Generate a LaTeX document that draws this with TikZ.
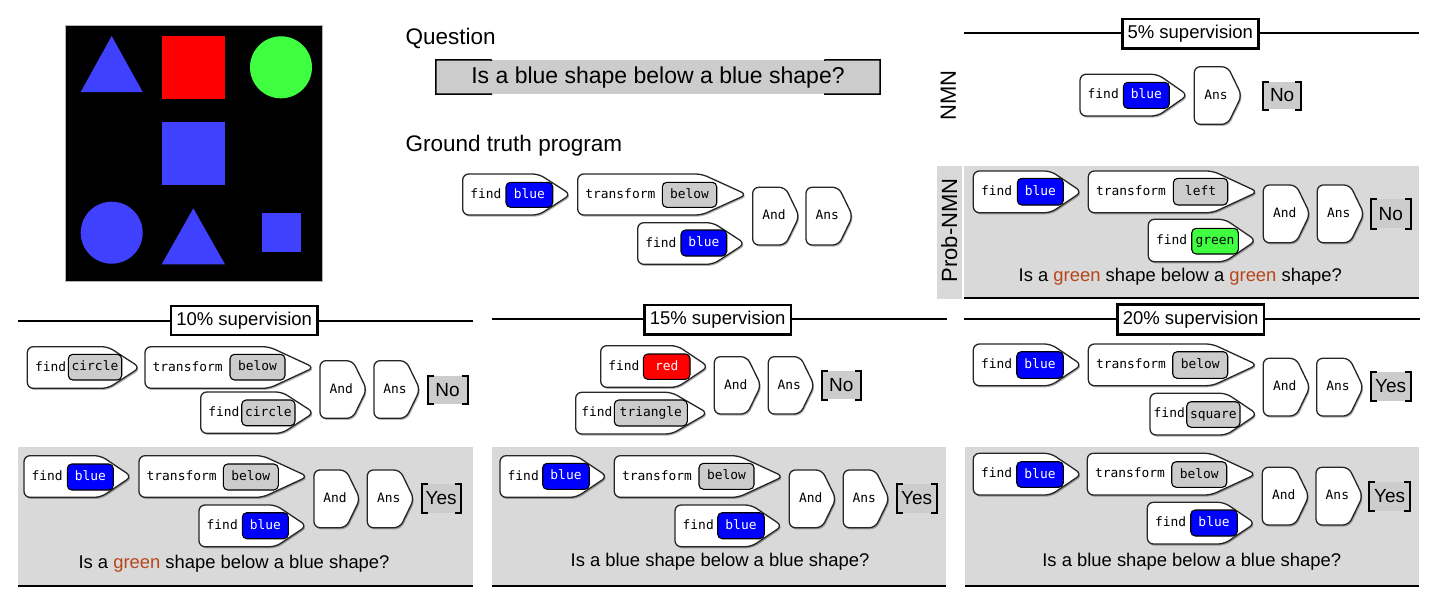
\documentclass[tikz,border=0pt]{standalone}
\usepackage{fontspec}
\setmainfont{Liberation Sans}
\newfontfamily\codefont{DejaVu Sans Mono}
\usetikzlibrary{fit,shadows}
\definecolor{panelgray}{RGB}{217,217,217}
\definecolor{ansgray}{RGB}{204,204,204}
\definecolor{argblue}{RGB}{0,0,255}
\definecolor{argred}{RGB}{255,0,0}
\definecolor{arggreen}{RGB}{64,255,64}
\definecolor{arggray}{RGB}{204,204,204}
\definecolor{shapeblue}{RGB}{64,64,255}
\definecolor{shapegreen}{RGB}{64,255,64}
\definecolor{wordgreen}{RGB}{181,70,26}
\tikzset{
  modshape/.style={draw=black!85, line width=1.3pt, fill=white, rounded corners=6pt,
    drop shadow={shadow xshift=1.2pt, shadow yshift=-1.6pt, opacity=0.3, fill=black}},
  modword/.style={inner sep=0pt, font=\fontsize{12.9}{15}\codefont, text=black,
    text height=1.5ex, text depth=0.3ex},
  argbox/.style={draw=black, line width=1.1pt, rounded corners=4.5pt, inner sep=0pt},
  argtext/.style={inner sep=0pt, font=\fontsize{12.9}{15}\codefont, text height=1.5ex, text depth=0.3ex},
  bluearg/.style={fill=argblue, text=white},
  redarg/.style={fill=argred, text=white},
  grayarg/.style={fill=arggray, text=black},
  greenarg/.style={fill=arggreen, text=black},
  ansbox/.style={inner sep=0pt, fill=ansgray},
  anstext/.style={inner sep=0pt, font=\fontsize{19}{23}\selectfont},
  bracket/.style={line width=2pt, black},
  rule/.style={line width=2.3pt, black},
  headbox/.style={draw=black, line width=2.4pt, fill=white, inner sep=0pt},
  headtext/.style={inner sep=0pt, font=\fontsize{18.5}{22}\selectfont},
  title/.style={font=\fontsize{22.5}{27}\selectfont, inner sep=0pt},
  qtext/.style={font=\fontsize{18.4}{22}\selectfont, inner sep=0pt},
  side/.style={font=\fontsize{22}{26}\selectfont, inner sep=0pt, rotate=90}
}
% module outline: name, x1, y1, x2, y2, tip depth
\newcommand\mkmod[6]{%
  \node[inner sep=0pt, outer sep=0pt, fit={(#2,#3) (#4,#5)}] (#1) {};
  \draw[modshape] (#1.north west) -- ([xshift=-#6pt]#1.north east) -- (#1.east)
     -- ([xshift=-#6pt]#1.south east) -- (#1.south west) -- cycle;}
% argument box: name, x1, y1, x2, y2, style, text
\newcommand\mkarg[7]{\node[argbox, #6, fit={(#2,#3) (#4,#5)}] (#1) {};
  \node[argtext, #6, fill=none] (#1t) at ([yshift=-0.5pt]#1.center) {#7};}
% word at left of module: [offset] name, module, text
\newcommand\mkword[4][7.5]{\node[modword, anchor=west] (#2) at ([xshift=#1pt, yshift=-0.5pt]#3.west) {#4};}
% And / Ans module: name, x1, y1, x2, y2, text
\newcommand\mkfun[6]{\mkmod{#1}{#2}{#3}{#4}{#5}{14}%
  \node[modword] (#1t) at ([xshift=-2pt, yshift=-0.5pt]#1.center) {#6};}
% answer: name, x1, y1, x2, y2, text
\newcommand\mkans[6]{%
  \node[ansbox, fit={(#2,#3) (#4,#5)}] (#1) {};
  \node[anstext] (#1t) at (#1.center) {#6};
  \draw[bracket] ([xshift=6pt]#1.north west) -- (#1.north west) -- (#1.south west) -- ([xshift=6pt]#1.south west);
  \draw[bracket] ([xshift=-6pt]#1.north east) -- (#1.north east) -- (#1.south east) -- ([xshift=-6pt]#1.south east);}
% header: name, line x1, line x2, line y, box x1, y1, x2, y2, text
\newcommand\mkhead[9]{%
  \draw[rule] (#2,#4) -- (#3,#4);
  \node[headbox, fit={(#5,#6) (#7,#8)}] (#1) {};
  \node[headtext] (#1t) at (#1.center) {#9};}
\newcommand\gw{\textcolor{wordgreen}{green}}
\begin{document}
\begin{tikzpicture}[x=1pt, y=-1pt]
\useasboundingbox (0,0) rectangle (1447,603);
% ---------- scene image ----------
\fill[black] (65,25) rectangle (322,281);
\draw[gray!60, line width=0.6pt] (65,25) rectangle (322,281);
\fill[shapeblue] (111.7,36) -- (80.7,92) -- (142.7,92) -- cycle;
\fill[argred] (161.7,36) rectangle (225,99);
\fill[shapegreen] (281,67.3) circle (31pt);
\fill[shapeblue] (161.7,121.7) rectangle (225,184.7);
\fill[shapeblue] (111.7,232.7) circle (31pt);
\fill[shapeblue] (193.3,208.3) -- (161.7,264.3) -- (225,264.3) -- cycle;
\fill[shapeblue] (262,213.3) rectangle (300.7,251.7);
% ---------- question ----------
\node[title, anchor=base west] (qlabel) at (405.5,44) {Question};
\node[inner sep=0pt, fill=ansgray, fit={(436,60) (880,94)}] (qbox) {};
\node[inner sep=0pt, font=\fontsize{23}{27}\selectfont] (qboxt) at ([yshift=-1pt]qbox.center) {Is a blue shape below a blue shape?};
\draw[line width=1.5pt] (492,60) -- (qbox.north west) -- (qbox.south west) -- (492,94);
\draw[line width=1.5pt] (824,60) -- (qbox.north east) -- (qbox.south east) -- (824,94);
\node[title, anchor=base west] (gtlabel) at (405.5,151.5) {Ground truth program};
% ground truth program
\mkmod{gt1}{462.7}{174}{570.7}{215}{32}\mkword{gt1w}{gt1}{find}
\mkarg{gt1a}{506}{182.3}{552.7}{207.3}{bluearg}{blue}
\mkmod{gt2}{577.7}{174}{746.7}{215}{45}\mkword{gt2w}{gt2}{transform}
\mkarg{gt2a}{662.3}{182.3}{716.7}{207.3}{grayarg}{below}
\mkmod{gt3}{637.7}{222.7}{745}{264.3}{32}\mkword{gt3w}{gt3}{find}
\mkarg{gt3a}{681}{230}{726.7}{256}{bluearg}{blue}
\mkfun{gt4}{752.7}{187.3}{799.3}{245}{And}
\mkfun{gt5}{806}{187.3}{852.7}{245}{Ans}
% ---------- 5% supervision ----------
\mkhead{h5}{964.3}{1419.3}{33.3}{1122.3}{19}{1258.3}{48.3}{5\% supervision}
\node[side] (nmnlabel) at (948.3,95.3) {NMN};
\mkmod{n1}{1080}{74.3}{1187.7}{116}{30}\mkword{n1w}{n1}{find}
\mkarg{n1a}{1123.3}{82.3}{1169.3}{108.3}{bluearg}{blue}
\mkfun{n2}{1194.3}{66.7}{1241.7}{124.3}{Ans}
\mkans{n3}{1263.3}{81.7}{1301}{109.3}{No}
\fill[panelgray] (964.3,166) rectangle (1419,298.3);
\draw[rule] (964.3,298.3) -- (1419,298.3);
\node[inner sep=0pt, fill=panelgray, fit={(936.7,166) (961.7,299.3)}] (strip) {};
\node[side] (problabel) at (949.2,230.3) {Prob-NMN};
\mkmod{p1}{973.3}{171}{1081.7}{212.7}{31}\mkword{p1w}{p1}{find}
\mkarg{p1a}{1017.3}{178.3}{1063.3}{205}{bluearg}{blue}
\mkmod{p2}{1088.3}{171}{1257.7}{212.7}{45}\mkword{p2w}{p2}{transform}
\mkarg{p2a}{1173.3}{178.3}{1227.7}{205}{grayarg}{left}
\mkmod{p3}{1148.3}{219.3}{1256}{261.7}{31}\mkword{p3w}{p3}{find}
\mkarg{p3a}{1191.7}{228.3}{1238.3}{254}{greenarg}{green}
\mkfun{p4}{1263.3}{185}{1310}{242.7}{And}
\mkfun{p5}{1317.3}{185}{1364}{242.7}{Ans}
\mkans{p6}{1370.7}{199.3}{1410.7}{228.3}{No}
\node[qtext, anchor=base] (pq) at (1180.3,281.7) {Is a \gw{} shape below a \gw{} shape?};
% ---------- 10% supervision ----------
\mkhead{h10}{18.3}{473.3}{320.7}{171}{305.7}{317.3}{335}{10\% supervision}
\mkmod{a1}{27.3}{346.7}{140}{388.3}{32}\mkword{a1w}{a1}{find}
\mkarg{a1a}{68.3}{354.3}{121.7}{380}{grayarg}{circle}
\mkmod{a2}{145}{346.7}{314}{388.3}{45}\mkword{a2w}{a2}{transform}
\mkarg{a2a}{230}{354.3}{285}{380}{grayarg}{below}
\mkmod{a3}{200.7}{392}{314}{433.3}{32}\mkword{a3w}{a3}{find}
\mkarg{a3a}{241.7}{400}{295}{425.7}{grayarg}{circle}
\mkfun{a4}{320}{360.7}{366.7}{418.3}{And}
\mkfun{a5}{374}{360.7}{420}{418.3}{Ans}
\mkans{a6}{427.7}{375.7}{467.3}{404}{No}
\fill[panelgray] (18.3,446.7) rectangle (472.7,585);
\draw[rule] (18.3,586) -- (472.7,586);
\mkmod{b1}{24}{455.7}{131.7}{497.3}{31}\mkword{b1w}{b1}{find}
\mkarg{b1a}{67.3}{464}{113.3}{490}{bluearg}{blue}
\mkmod{b2}{139}{455.7}{307.7}{497.3}{45}\mkword{b2w}{b2}{transform}
\mkarg{b2a}{223.3}{464}{278.3}{490}{grayarg}{below}
\mkmod{b3}{199}{505}{306.7}{546.7}{31}\mkword{b3w}{b3}{find}
\mkarg{b3a}{242.3}{512.7}{288.3}{538.7}{bluearg}{blue}
\mkfun{b4}{314}{470}{360}{527.7}{And}
\mkfun{b5}{367.3}{470}{414}{527.7}{Ans}
\mkans{b6}{421.7}{484.3}{460.7}{512.7}{Yes}
\node[qtext, anchor=base] (bq) at (234,568.3) {Is a \gw{} shape below a blue shape?};
% ---------- 15% supervision ----------
\mkhead{h15}{491.7}{946.7}{319.3}{644.3}{305}{791}{334.3}{15\% supervision}
\mkmod{c1}{600.7}{345.7}{708.3}{387.3}{31}\mkword{c1w}{c1}{find}
\mkarg{c1a}{643.3}{354}{690}{379.3}{redarg}{red}
\mkmod{c2}{575.7}{392.3}{707.7}{434}{36}\mkword[5.5]{c2w}{c2}{find}
\mkarg{c2a}{614.3}{400}{687.3}{426}{grayarg}{triangle}
\mkfun{c3}{714.3}{356.7}{761}{414}{And}
\mkfun{c4}{768.3}{356.7}{814.3}{414}{Ans}
\mkans{c5}{821.7}{371}{861}{399.3}{No}
\fill[panelgray] (492.3,447.3) rectangle (946,585);
\draw[rule] (492.3,586) -- (946,586);
\mkmod{d1}{500}{455.7}{607.3}{497.3}{31}\mkword{d1w}{d1}{find}
\mkarg{d1a}{542.7}{463.3}{589.3}{489.3}{bluearg}{blue}
\mkmod{d2}{614.3}{455.7}{783.3}{497.3}{45}\mkword{d2w}{d2}{transform}
\mkarg{d2a}{699}{463.3}{754}{489.3}{grayarg}{below}
\mkmod{d3}{675}{505}{782.3}{546.7}{31}\mkword{d3w}{d3}{find}
\mkarg{d3a}{717.7}{512.7}{764.3}{538.7}{bluearg}{blue}
\mkfun{d4}{789.3}{470}{836}{527.7}{And}
\mkfun{d5}{843.3}{470}{889.3}{527.7}{Ans}
\mkans{d6}{896.7}{484.3}{936.7}{512.7}{Yes}
\node[qtext, anchor=base] (dq) at (720,566.7) {Is a blue shape below a blue shape?};
% ---------- 20% supervision ----------
\mkhead{h20}{964}{1420}{319}{1117.3}{304.3}{1264}{334.3}{20\% supervision}
\mkmod{e1}{973.3}{344}{1081.7}{385.7}{31}\mkword{e1w}{e1}{find}
\mkarg{e1a}{1016.7}{351.7}{1063.3}{378.3}{bluearg}{blue}
\mkmod{e2}{1088.3}{344}{1257.3}{385.7}{45}\mkword{e2w}{e2}{transform}
\mkarg{e2a}{1172.7}{351.7}{1227.7}{378.3}{grayarg}{below}
\mkmod{e3}{1150}{393.3}{1257.3}{435}{31}\mkword[3.5]{e3w}{e3}{find}
\mkarg{e3a}{1186.7}{401.7}{1240}{427.3}{grayarg}{square}
\mkfun{e4}{1263.3}{358.3}{1310}{416}{And}
\mkfun{e5}{1316.7}{358.3}{1363.3}{416}{Ans}
\mkans{e6}{1370.7}{372.3}{1410.7}{400.7}{Yes}
\fill[panelgray] (965,446.7) rectangle (1419.3,585);
\draw[rule] (965,586) -- (1419.3,586);
\mkmod{f1}{973.3}{453.3}{1081.7}{495}{31}\mkword{f1w}{f1}{find}
\mkarg{f1a}{1016.7}{461.7}{1063.3}{487.3}{bluearg}{blue}
\mkmod{f2}{1087.3}{453.3}{1256}{495}{45}\mkword{f2w}{f2}{transform}
\mkarg{f2a}{1171.7}{461.7}{1226.7}{487.3}{grayarg}{below}
\mkmod{f3}{1147.3}{502.3}{1255}{544}{31}\mkword{f3w}{f3}{find}
\mkarg{f3a}{1190.7}{510}{1237.3}{536}{bluearg}{blue}
\mkfun{f4}{1262.3}{467.3}{1309}{525}{And}
\mkfun{f5}{1316}{467.3}{1362.7}{525}{Ans}
\mkans{f6}{1369.3}{481.7}{1410}{510.7}{Yes}
\node[qtext, anchor=base] (fq) at (1191.7,566.7) {Is a blue shape below a blue shape?};
\end{tikzpicture}
\end{document}
